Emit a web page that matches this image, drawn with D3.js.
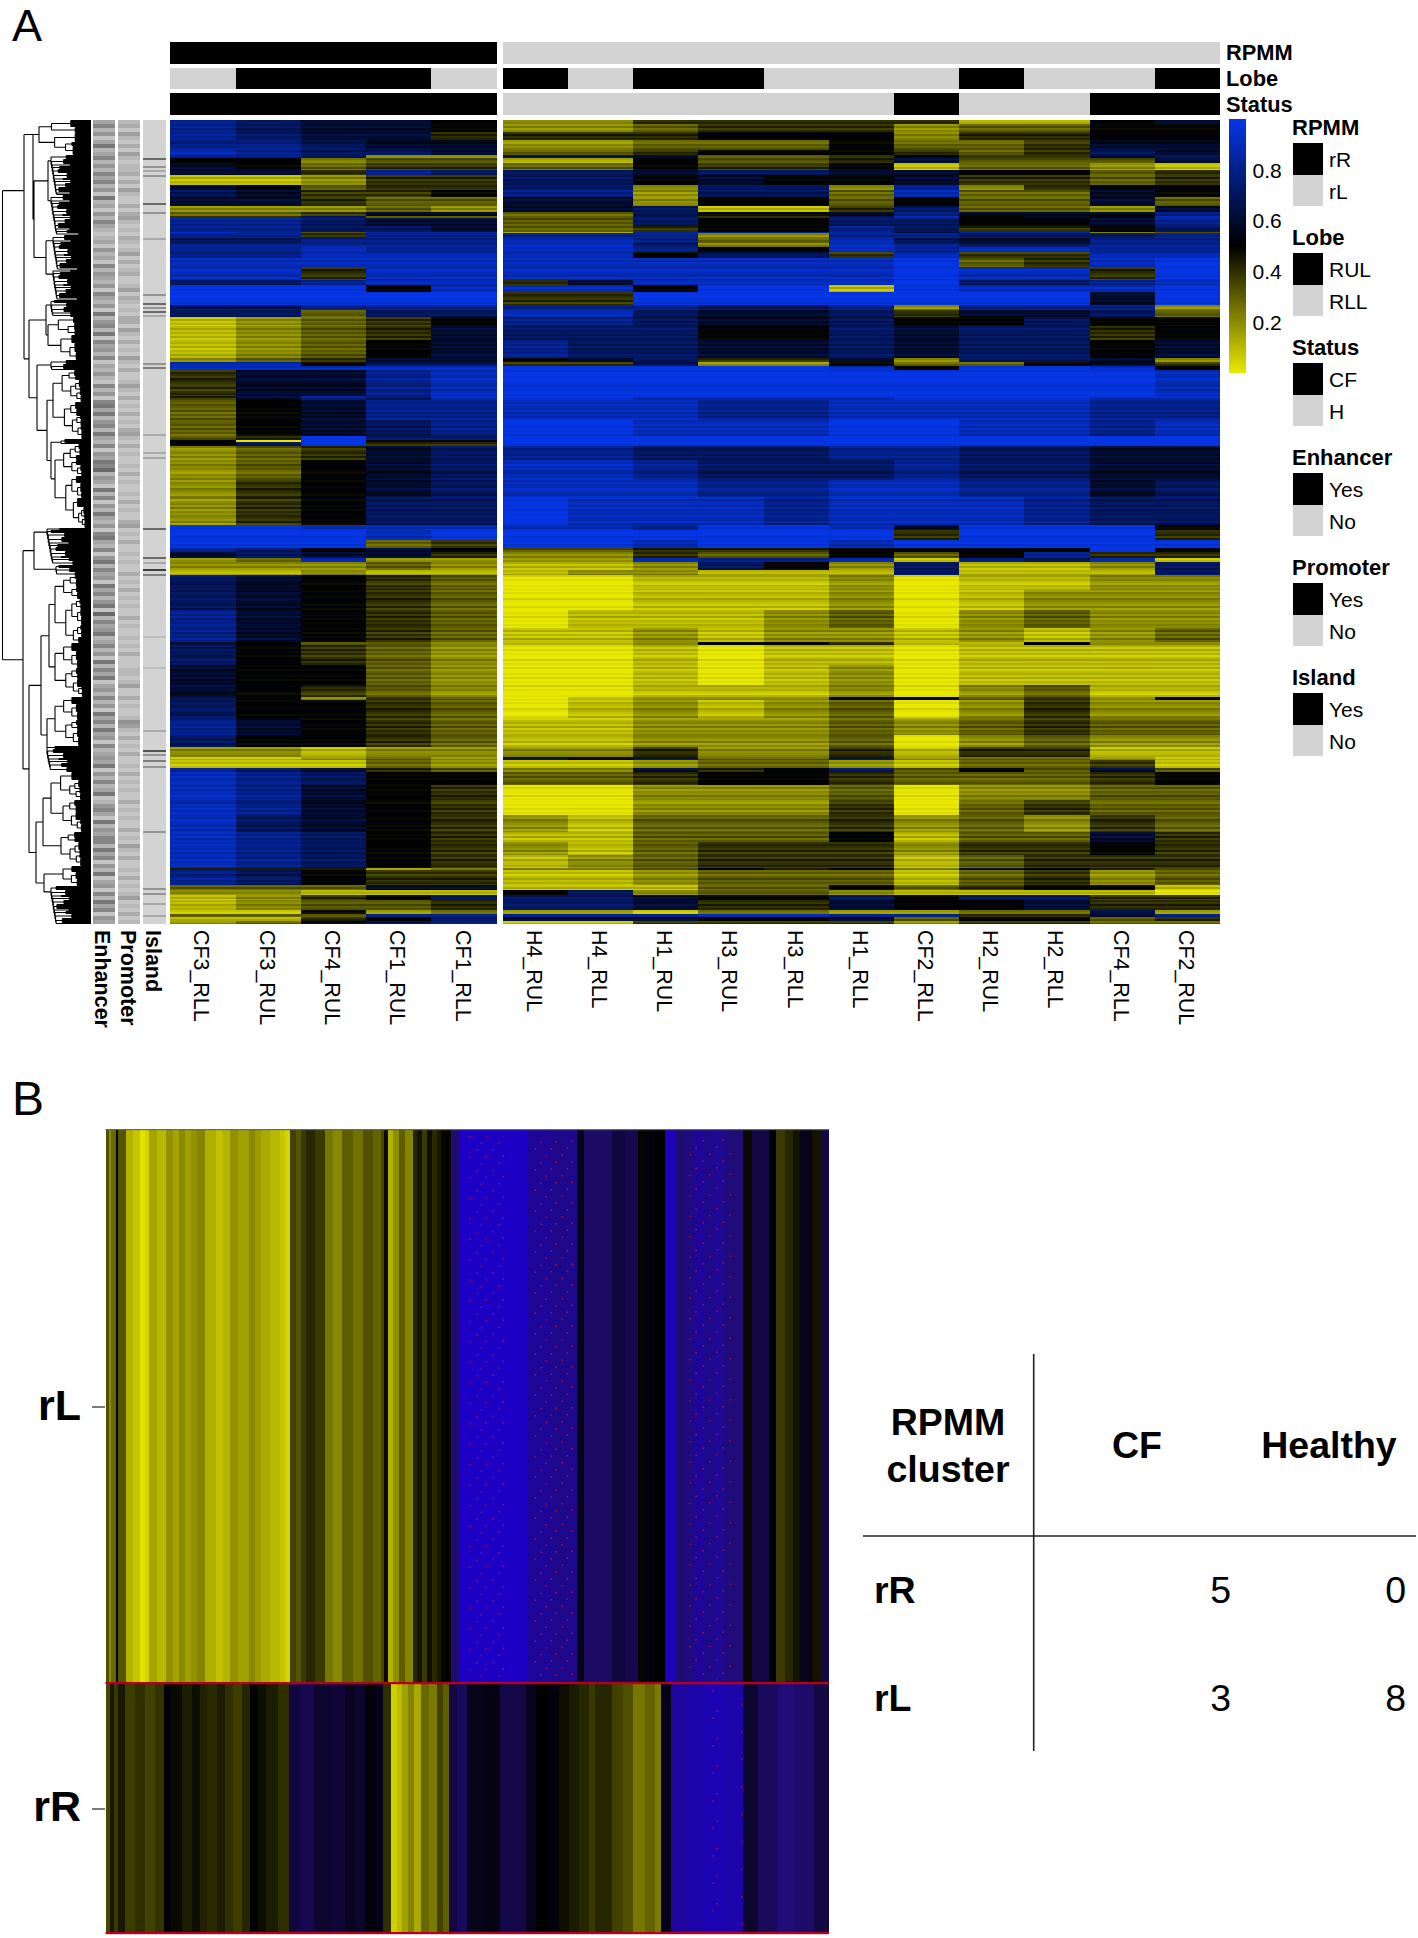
<!DOCTYPE html>
<html><head><meta charset="utf-8"><script src="https://cdn.jsdelivr.net/npm/d3@7"></script>
<style>html,body{margin:0;background:#fff}svg{display:block}text{font-family:"Liberation Sans",Arial,sans-serif;fill:#000}</style></head>
<body><svg id="c" width="1418" height="1938"></svg>
<script>
// ---------- DATA, panel A ----------
const samplesLeft=["CF3_RLL","CF3_RUL","CF4_RUL","CF1_RUL","CF1_RLL"];
const samplesRight=["H4_RUL","H4_RLL","H1_RUL","H3_RUL","H3_RLL","H1_RLL","CF2_RLL","H2_RUL","H2_RLL","CF4_RLL","CF2_RUL"];
const rpmmRow=["rR","rR","rR","rR","rR","rL","rL","rL","rL","rL","rL","rL","rL","rL","rL","rL"];
const lobeRow=["RLL","RUL","RUL","RUL","RLL","RUL","RLL","RUL","RUL","RLL","RLL","RLL","RUL","RLL","RLL","RUL"];
const statusRow=["CF","CF","CF","CF","CF","H","H","H","H","H","H","CF","H","H","CF","CF"];
const totalRows=804;
// end row of every band of probes
const bandEnds=[4,12,20,30,35,38,43,50,55,65,70,77,86,92,96,98,106,112,113,118,123,127,132,138,147,160,165,172,185,190,197,206,220,238,242,246,250,265,276,280,300,316,320,322,326,340,360,377,405,410,420,428,432,438,442,450,455,470,490,508,522,525,545,565,577,580,598,615,627,637,640,648,652,665,680,695,712,722,735,748,750,765,770,775,780,790,794,797,801,804];
// one hex digit per sample: methylation beta in tenths (0=0.0 ... a=1.0)
const bandBeta=[
"87665"+"22444441156","87665"+"22344423355","87664"+"44455524455","88766"+"22333533466","98776"+"33455543476",
"88722"+"77633454467","55233"+"11533463336","65344"+"33544513321","66487"+"77677665534","11244"+"77565564434",
"65344"+"77277282455","76445"+"88277393365","66433"+"66255353363","22232"+"66711473326","33466"+"33755686668",
"44733"+"33744795659","88766"+"33755775568","88776"+"33455874457","98388"+"11888868823","88488"+"88822887778",
"77888"+"99833976688","88888"+"99722987788","88988"+"99855989988","88999"+"99577494499","99999"+"999999a349a",
"99499"+"999999a994a","77899"+"469999a7789","aaa59"+"995aa1a999a","aaaaa"+"44aaaaaaa6a","77888"+"88877828882",
"77377"+"99766746673","12345"+"88766755755","12346"+"77755767745","12356"+"87766767756","23466"+"56744627762",
"99577"+"44722533564","99999"+"aaaaa95aa95","46689"+"aaaaaaaaaa9","46689"+"aaaaaaaaaa9","46879"+"aa9999aaa99",
"35688"+"99988999988","35678"+"aa999aa9989","34a77"+"aaaaaaaaaaa","50a55"+"aaaaaaaaaaa","57a44"+"aaaaaaaaaaa","23467"+"88777887766",
"23567"+"99877787766","24567"+"99988998867","24577"+"a9998999877","aa999"+"998aa96aaa5","aaa9a"+"aaaaaa4aaa4",
"aaa34"+"aa9aa9aaaaa","87565"+"334445555a5","67664"+"22433535844","23922"+"22988918791","22232"+"11275271127",
"11211"+"12211171117","76543"+"00111201122","76543"+"00111201222","86543"+"01112302322","86543"+"11212212123",
"65332"+"11255411522","75432"+"00101101111","65532"+"00101201111","65432"+"00111202311","75243"+"01222553425",
"75543"+"01212302422","86543"+"11222323433","75543"+"11222302322","22122"+"22422414411","11232"+"75733723321",
"11132"+"11233213341","87643"+"22645735363","98755"+"33455433345","98654"+"00222302233","98654"+"00222403433",
"97654"+"21333423243","98754"+"11333513364","98754"+"21344424454","98754"+"12344413444","44412"+"22354526543",
"87544"+"11233313423","33366"+"11133534551","22111"+"57233211110","12457"+"77655757744","12334"+"77644655644",
"11523"+"22133223372","33388"+"88899884468","11457"+"66655635534","23678"+"11444424433"];
// fine row-to-row striping inside the bands, 0..8 around 4, per two rows
const rowStripes="4627153846205371642853170462815364270518346172504836271";
// share of "Yes" probes per 4 rows (tenths)
const enhancerShare="3524136235"+"2425352416"+"2314253212"+"3142315243"+"2415324162"+"4526153425"+"1324215241"+"5636245263"+"2514365724"+"3162514263"+"2415632514"+"6253416352"+"4617253462"+"3524162536"+"1342524163"+"5263415234"+"3614252361"+"2453162435"+"5263514261"+"3415263514"+"3";
const promoterShare="2314213142"+"1223131421"+"1313421213"+"2124131231"+"1241321213"+"3142131214"+"2131124213"+"1213121342"+"1312112131"+"2112131211"+"3412131121"+"2113121312"+"1211312112"+"1213111221"+"2411312112"+"5421312131"+"1213121211"+"3121211312"+"1421311213"+"1212412131"+"2";
const islandRows=[38,46,50,55,83,92,118,174,183,187,191,195,243,247,314,332,337,408,437,442,449,454,516,547,610,630,634,640,646,711,768,773,783,795];
const islandShare=[5,3,2,3,5,3,2,3,5,3,5,2,3,4,2,2,2,5,5,2,7,4,1,1,2,6,3,4,3,3,3,3,2,2];
const betaTicks=[0.2,0.4,0.6,0.8];
const annotationNames=["RPMM","Lobe","Status"];
const sideNames=["Enhancer","Promoter","Island"];
const legendGroups=[["RPMM","rR","rL"],["Lobe","RUL","RLL"],["Status","CF","H"],["Enhancer","Yes","No"],["Promoter","Yes","No"],["Island","Yes","No"]];
// dendrogram: merge height, attach share (a) and, at the tips, probes per cluster and cluster form
const T=(n,s,h)=>({n,s,h});
const dendrogram={h:88.5,c:[
 {h:67,a:.25,c:[
  {h:58,a:0,c:[T(35,'L',52),{h:57,c:[{h:43,c:[T(40,'D',40),T(40,'D',40)]},{h:45,c:[T(35,'D',38),T(30,'D',38)]}]}]},
  {h:62,c:[{h:45,c:[T(17,'D',40),T(43,'L',43)]},{h:54,c:[T(10,'D',40),{h:44,c:[T(69,'L',38),{h:40,c:[T(5,'D',30),T(84,'L',36)]}]}]}]}
 ]},
 {h:68,c:[
  {h:57,c:[T(37,'D',44),T(11,'D',35)]},
  {h:62,c:[
   {h:50,c:[{h:42,c:[T(67,'L',36),T(54,'L',36)]},{h:44,c:[T(49,'L',36),T(26,'D',44)]}]},
   {h:55,c:[{h:48,c:[T(60,'L',40),T(34,'L',30)]},{h:47,c:[T(20,'L',28),T(38,'D',40)]}]}
  ]}
 ]}
]};
const splitShares=[.46,.3,.58,.38,.5,.66,.42,.34];
const toothShares=[.9,.45,.7,.3,.6,1,.4,.55,.25,.8];
// ---------- DATA, panel B ----------
const probeEdges=[0,724];
const topEdges=[0,4,6,11,13,21,28,35,40,44,52,61,68,74,80,86,92,100,111,118,125,133,144,150,156,165,175,180,185,191,196,201,210,220,228,237,248,258,268,276,279,283,288,294,300,308,312,317,322,327,332,336,346,355,422,447,472,479,507,520,533,541,550,560,571,580,588,600,607,618,626,638,647,664,671,680,688,695,707,716,724];
const topBeta=[.33,.2,.28,.5,.32,.12,.08,.02,.05,.15,.11,.19,.15,.21,.16,.19,.22,.13,.09,.12,.19,.16,.21,.17,.14,.11,.08,.05,.36,.32,.38,.42,.38,.25,.21,.3,.26,.33,.29,.35,.48,.12,.2,.3,.22,.42,.46,.38,.47,.41,.45,.49,.75,.97,.85,.82,.55,.72,.64,.67,.49,.53,.5,.95,.75,.78,.85,.8,.84,.78,.76,.48,.65,.5,.38,.42,.46,.56,.46,.65];
const botEdges=[0,5,9,13,20,30,40,50,59,66,77,87,95,102,112,120,128,137,145,153,161,173,184,195,209,225,240,250,260,270,278,286,292,297,303,309,316,324,332,338,344,352,362,378,395,421,431,442,454,464,474,484,490,507,518,528,540,550,556,566,583,599,620,638,653,673,690,709,724];
const botBeta=[.35,.45,.38,.45,.37,.4,.36,.39,.52,.48,.44,.47,.43,.41,.44,.4,.37,.42,.5,.47,.44,.4,.64,.67,.6,.62,.57,.6,.52,.55,.4,.06,.1,.16,.22,.14,.28,.24,.36,.3,.65,.7,.56,.54,.66,.56,.5,.53,.47,.44,.42,.38,.42,.36,.33,.25,.29,.24,.55,.87,.9,.92,.9,.6,.7,.76,.73,.65];
const topRedColumns=[365,372,376,381,388,394,398,430,436,441,446,451,457,462,467,585,591,598,605,612,618,625];
const botRedColumns=[608,612,637];
const tableHead=["CF","Healthy"];
const tableRows=[["rR",5,0],["rL",3,8]];

// ---------- DRAW ----------
const svg=d3.select("#c");
const GREY="#d3d3d3";
const beta=d3.scaleLinear().domain([0,.5,1]).range(["#e9e900","#000","#0536e6"]).clamp(true);
const x1=d3.scaleBand().domain(samplesLeft.map((d,i)=>i)).range([170.3,496.7]);
const x2=d3.scaleBand().domain(samplesRight.map((d,i)=>i+5)).range([502.7,1220]);
const xs=i=>i<5?x1(i):x2(i);
const wd=i=>i<5?x1.bandwidth():x2.bandwidth();
const y=d3.scaleLinear().domain([0,totalRows]).range([120,924]);
const allSamples=samplesLeft.concat(samplesRight);

svg.append("text").attr("x",12).attr("y",41).attr("font-size",45).text("A");
svg.append("text").attr("x",12).attr("y",1115).attr("font-size",48).text("B");

// annotation bars
const annY=d3.scaleBand().domain(annotationNames).range([42,115]).paddingInner(.14);
[rpmmRow,lobeRow,statusRow].forEach((row,k)=>{
 const n=annotationNames[k];
 svg.append("g").attr("shape-rendering","crispEdges").selectAll("rect").data(row).join("rect")
  .attr("x",(d,i)=>xs(i)).attr("width",(d,i)=>wd(i)+.3).attr("y",annY(n)).attr("height",annY.bandwidth())
  .attr("fill",d=>(d==="rR"||d==="RUL"||d==="CF")?"#000":GREY);
 svg.append("text").attr("x",1226).attr("y",annY(n)+annY.bandwidth()/2+7.5).attr("font-size",21.8).attr("font-weight","bold").text(n);
});

// heatmap: each band drawn row pair by row pair, with the fine striping
const hm=svg.append("g").attr("shape-rendering","crispEdges");
bandBeta.forEach((s,b)=>{
 const r0=b?bandEnds[b-1]:0,r1=bandEnds[b];
 const vals=s.split("").map(c=>parseInt(c,16)/10);
 for(let r=r0;r<r1;r+=2){
  const st=(+rowStripes[(r>>1)%rowStripes.length]-4)*.014;
  const re=Math.min(r+2,r1);
  hm.append("g").selectAll("rect").data(vals).join("rect")
   .attr("x",(d,i)=>xs(i)).attr("width",(d,i)=>wd(i)+.3)
   .attr("y",y(r)).attr("height",y(re)-y(r)+.3).attr("fill",d=>beta(d+st*(d>.45&&d<.55?.5:1)));
 }
});

// side bars
const sideX=d3.scaleBand().domain(sideNames).range([92.7,165.5]).paddingInner(.13);
const shade=d3.scaleLinear().domain([0,1]).range([GREY,"#000"]);
[enhancerShare,promoterShare].forEach((s,k)=>{
 const g=svg.append("g").attr("shape-rendering","crispEdges");
 g.selectAll("rect").data(s.split("").map(Number)).join("rect")
  .attr("x",sideX(sideNames[k])).attr("width",sideX.bandwidth())
  .attr("y",(d,i)=>y(i*4)).attr("height",(d,i)=>y(Math.min(totalRows,i*4+4))-y(i*4))
  .attr("fill",d=>shade(d/10*(k?.62:.72)));
});
const isl=svg.append("g").attr("shape-rendering","crispEdges");
isl.append("rect").attr("x",sideX("Island")).attr("width",sideX.bandwidth()).attr("y",y(0)).attr("height",y(totalRows)-y(0)).attr("fill",GREY);
isl.selectAll("rect.i").data(islandRows).join("rect").attr("class","i")
 .attr("x",sideX("Island")).attr("width",sideX.bandwidth()).attr("y",d=>y(d)).attr("height",2)
 .attr("fill",(d,i)=>shade(islandShare[i]/10));
sideNames.forEach(n=>{
 svg.append("text").attr("transform",`translate(${sideX(n)+sideX.bandwidth()/2-8.5},930) rotate(90)`).attr("font-size",21.5).attr("font-weight","bold").text(n);
});
allSamples.forEach((n,i)=>{
 svg.append("text").attr("transform",`translate(${xs(i)+wd(i)/2-8.5},930) rotate(90)`).attr("font-size",21.4).text(n);
});

// dendrogram
const dx=d3.scaleLinear().domain([0,88.5]).range([91,2.5]);
function grow(t,k=0){
 if(t.c) return {h:t.h,a:t.a,c:t.c.map((d,i)=>grow(d,k+i+1))};
 return t.s==="L"?loose(t.n,t.h,k):dense(t.n,t.h,k);
}
function comb(n,h){return {h,c:d3.range(n).map(()=>({h:0}))};}
function loose(n,h,k){
 if(n<=9) return comb(n,Math.min(h,11+splitShares[k%8]*14));
 const a=Math.max(1,Math.round(n*splitShares[k%8]));
 return {h,c:[loose(a,h*.76,k+1),loose(n-a,h*.7,k+3)]};
}
function dense(n,h,k){
 const m=2+(k%4);
 if(n<=m) return comb(n,Math.max(12,h*(.3+.3*toothShares[k%10])));
 const tip=comb(m,Math.min(h*.92,h*(.42+.5*toothShares[k%10])));
 return {h,c:[tip,dense(n-m,h*.985,k+1)]};
}
const root=d3.hierarchy(grow(dendrogram),d=>d.c);
let row=0;
root.eachAfter(d=>{
 if(!d.children){d.py=row+.5;row+=1;}
 else{
  const a=d.children[0].py,b=d.children[d.children.length-1].py,w=d.data.a===undefined?.5:d.data.a;
  d.py=a+(b-a)*w;
 }
});
const pth=d3.path();
root.each(d=>{
 if(!d.children) return;
 const X=dx(d.data.h),a=d.children[0],b=d.children[d.children.length-1];
 pth.moveTo(X,y(a.py));pth.lineTo(X,y(b.py));
 d.children.forEach(c=>{pth.moveTo(X,y(c.py));pth.lineTo(dx(c.data.h),y(c.py));});
});
svg.append("path").attr("fill","none").attr("stroke","#000").attr("stroke-width",1.1).attr("d",pth.toString());

// colour bar
const barY=d3.scaleLinear().domain([0,1]).range([373,119.3]);
svg.append("g").attr("shape-rendering","crispEdges").selectAll("rect").data(d3.range(0,1,.004)).join("rect")
 .attr("x",1229).attr("width",16.7).attr("y",d=>barY(d+.004)).attr("height",d=>barY(d)-barY(d+.004)+.3).attr("fill",d=>beta(d));
svg.append("g").selectAll("text").data(betaTicks).join("text").attr("x",1252.5).attr("y",d=>barY(d)+7.5).attr("font-size",21).text(d=>d.toFixed(1));

// legends
const legY=d3.scaleBand().domain(legendGroups.map(d=>d[0])).range([120,780]);
legendGroups.forEach(g=>{
 const t=legY(g[0]);
 svg.append("text").attr("x",1292).attr("y",t+15).attr("font-size",22).attr("font-weight","bold").text(g[0]);
 [1,2].forEach(j=>{
  svg.append("rect").attr("shape-rendering","crispEdges").attr("x",1292.7).attr("width",30.6).attr("y",t+23.3+(j-1)*31.4).attr("height",31.4).attr("fill",j===1?"#000":GREY);
  svg.append("text").attr("x",1329).attr("y",t+47+(j-1)*32).attr("font-size",21).text(g[j]);
 });
});

// ---------- panel B ----------
const bx=d3.scaleLinear().domain(probeEdges).range([105.5,829]);
const beta2=d3.scaleLinear().domain([0,.5,.75,1]).range(["#ecec00","#000","#1f0c72","#1c00d0"]);
function strip(edges,vals,y0,y1){
 svg.append("g").attr("shape-rendering","crispEdges").selectAll("rect").data(vals).join("rect")
  .attr("x",(d,i)=>bx(edges[i])).attr("width",(d,i)=>bx(edges[i+1])-bx(edges[i])+.3)
  .attr("y",y0).attr("height",y1-y0).attr("fill",d=>beta2(d));
}
strip(topEdges,topBeta,1130,1682);
strip(botEdges,botBeta,1684,1932);
const red=(cols,y0,y1,dash)=>svg.append("g").selectAll("line").data(cols).join("line")
 .attr("x1",d=>bx(d)).attr("x2",d=>bx(d)).attr("y1",y0).attr("y2",y1)
 .attr("stroke","#c81030").attr("stroke-width",1.2).attr("stroke-dasharray",dash).attr("stroke-dashoffset",(d,i)=>i*7);
red(topRedColumns,1136,1680,"1.5 19");
red(botRedColumns,1690,1930,"1.5 26");
svg.append("rect").attr("x",bx(0)).attr("y",1129).attr("width",bx(724)-bx(0)).attr("height",1.2).attr("fill","#666");
[1682,1932].forEach(v=>svg.append("rect").attr("x",bx(0)).attr("y",v).attr("width",bx(724)-bx(0)).attr("height",2.2).attr("fill","#b5001f"));
[["rL",1407,1420],["rR",1809,1821]].forEach(([n,ty,tb])=>{
 svg.append("line").attr("x1",92).attr("x2",105).attr("y1",ty).attr("y2",ty).attr("stroke","#222").attr("stroke-width",1.2);
 svg.append("text").attr("x",81).attr("y",tb).attr("text-anchor","end").attr("font-size",43).attr("font-weight","bold").text(n);
});
// table
const tb=svg.append("g");
tb.append("line").attr("x1",1033.7).attr("x2",1033.7).attr("y1",1354).attr("y2",1751).attr("stroke","#222").attr("stroke-width",1.6);
tb.append("line").attr("x1",863).attr("x2",1416).attr("y1",1536).attr("y2",1536).attr("stroke","#222").attr("stroke-width",1.6);
const H=(t,x,yy,a,w)=>tb.append("text").attr("x",x).attr("y",yy).attr("text-anchor",a).attr("font-size",37.5).attr("font-weight",w).text(t);
H("RPMM",948,1435,"middle","bold");H("cluster",948,1482,"middle","bold");
H(tableHead[0],1137,1458,"middle","bold");H(tableHead[1],1329,1458,"middle","bold");
tableRows.forEach((r,i)=>{
 const yy=i?1711:1603;
 H(r[0],874,yy,"start","bold");H(r[1],1231,yy,"end","normal");H(r[2],1406,yy,"end","normal");
});
</script></body></html>
